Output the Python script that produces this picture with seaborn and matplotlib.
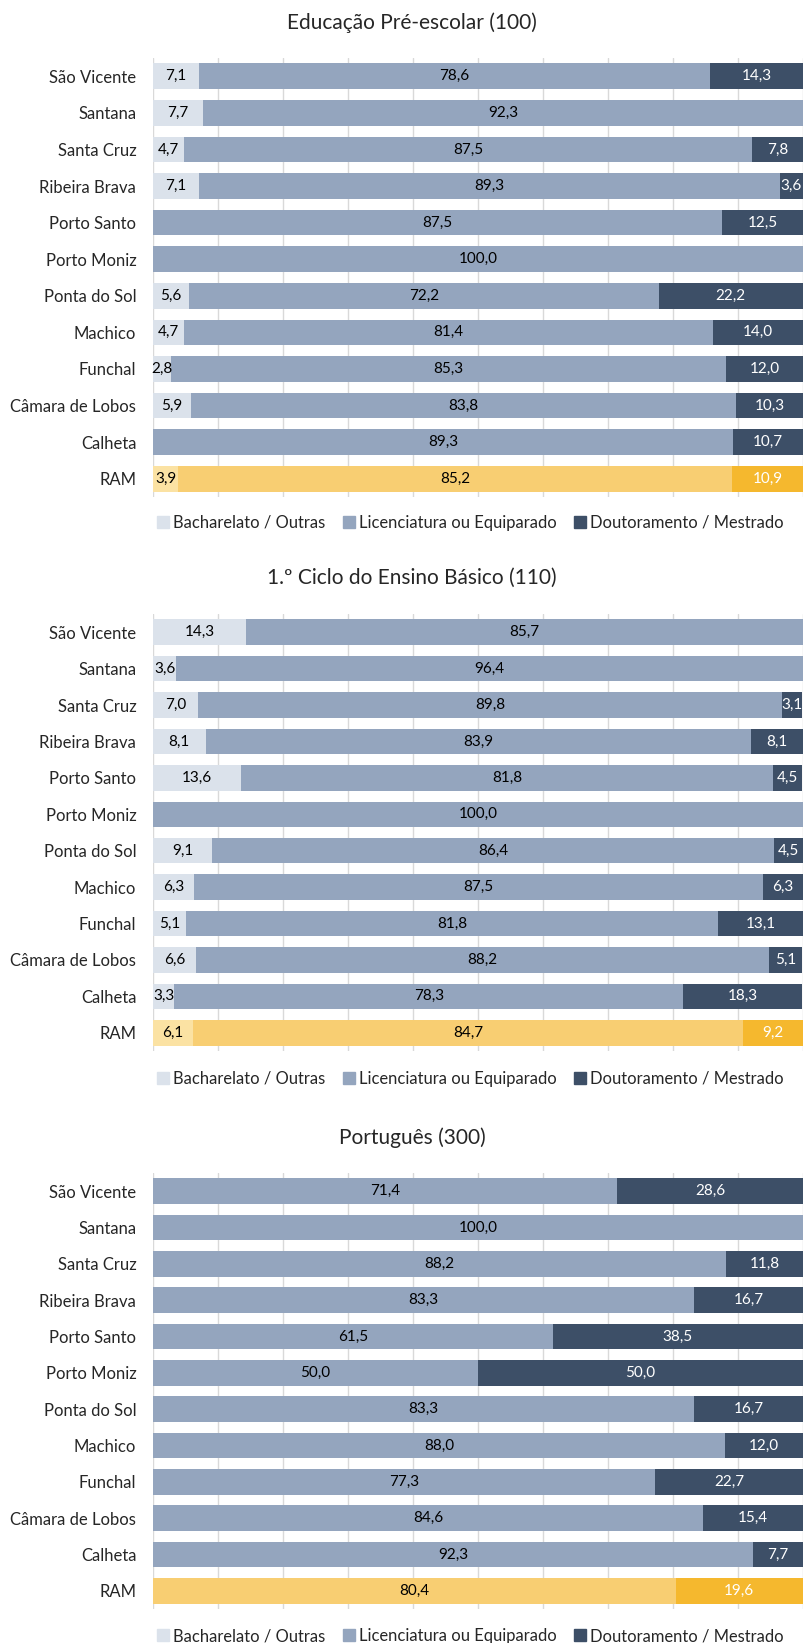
import seaborn as sns
import matplotlib.pyplot as plt
from matplotlib.lines import Line2D
import pandas as pd
import numpy as np

# categories (top to bottom)
municipios = ["São Vicente", "Santana", "Santa Cruz", "Ribeira Brava", "Porto Santo",
              "Porto Moniz", "Ponta do Sol", "Machico", "Funchal", "Câmara de Lobos",
              "Calheta", "RAM"]

titles = ["Educação Pré-escolar (100)", "1.º Ciclo do Ensino Básico (110)", "Português (300)"]
series_names = ["Bacharelato / Outras", "Licenciatura ou Equiparado", "Doutoramento / Mestrado"]

# values per panel (%)
bach_100 = [7.1, 7.7, 4.7, 7.1, 0, 0, 5.6, 4.7, 2.8, 5.9, 0, 3.9]
lic_100 = [78.6, 92.3, 87.5, 89.3, 87.5, 100.0, 72.2, 81.4, 85.3, 83.8, 89.3, 85.2]
dout_100 = [14.3, 0, 7.8, 3.6, 12.5, 0, 22.2, 14.0, 12.0, 10.3, 10.7, 10.9]

bach_110 = [14.3, 3.6, 7.0, 8.1, 13.6, 0, 9.1, 6.3, 5.1, 6.6, 3.3, 6.1]
lic_110 = [85.7, 96.4, 89.8, 83.9, 81.8, 100.0, 86.4, 87.5, 81.8, 88.2, 78.3, 84.7]
dout_110 = [0, 0, 3.1, 8.1, 4.5, 0, 4.5, 6.3, 13.1, 5.1, 18.3, 9.2]

bach_300 = [0] * 12
lic_300 = [71.4, 100.0, 88.2, 83.3, 61.5, 50.0, 83.3, 88.0, 77.3, 84.6, 92.3, 80.4]
dout_300 = [28.6, 0, 11.8, 16.7, 38.5, 50.0, 16.7, 12.0, 22.7, 15.4, 7.7, 19.6]

panels = [(bach_100, lic_100, dout_100),
          (bach_110, lic_110, dout_110),
          (bach_300, lic_300, dout_300)]

# colours: regular rows and the RAM row
cols = ["#dbe2eb", "#94a5be", "#3d4f67"]
cols_ram = ["#fbe2a3", "#f8ce72", "#f5b82e"]

sns.set_theme(style="white")
plt.rcParams["font.family"] = ["Lato", "DejaVu Sans"]

W, H = 804, 1643
fig = plt.figure(figsize=(W / 100, H / 100), dpi=100)

axes_px = [(58, 497), (614, 1051), (1173, 1609)]
title_px = [23, 578, 1138]
legend_px = [523, 1079, 1636]

for (bach, lic, dout), title, (top, bot), ty, ly in zip(panels, titles, axes_px, title_px, legend_px):
    ax = fig.add_axes([153 / W, 1 - bot / H, 650 / W, (bot - top) / H])
    df = pd.DataFrame({"mun": municipios, "b": bach, "l": lic, "d": dout})
    df["bl"] = df["b"] + df["l"]
    df["tot"] = df["bl"] + df["d"]
    # stack by overdrawing cumulative sums
    for k, col in [("tot", 2), ("bl", 1), ("b", 0)]:
        pal = {m: (cols_ram[col] if m == "RAM" else cols[col]) for m in municipios}
        sns.barplot(data=df, x=k, y="mun", hue="mun", order=municipios, palette=pal,
                    legend=False, orient="h", width=0.7, saturation=1, errorbar=None,
                    linewidth=0, ax=ax, zorder=2)
    # value labels
    for i, row in df.iterrows():
        left = 0
        for j, v in enumerate([row["b"], row["l"], row["d"]]):
            if v > 0:
                c = "white" if j == 2 else "black"
                ax.text(left + v / 2, i, f"{v:.1f}".replace(".", ","), ha="center", va="center",
                        fontsize=11, color=c, zorder=3)
            left += v
    ax.set_xlim(0, 100)
    ax.set_ylim(11.5, -0.5)
    ax.set_xticks(np.arange(0, 101, 10))
    ax.set_xticklabels([])
    ax.xaxis.grid(True, color="#d9d9d9", linewidth=1)
    ax.set_axisbelow(True)
    ax.tick_params(axis="y", length=0, labelsize=12, pad=12)
    ax.tick_params(axis="x", length=0)
    ax.set_xlabel("")
    ax.set_ylabel("")
    sns.despine(ax=ax, left=True, bottom=True)
    fig.text(412 / W, 1 - ty / H, title, ha="center", va="center", fontsize=15)
    handles = [Line2D([], [], marker="s", linestyle="", markersize=9, color=c) for c in cols]
    fig.legend(handles, series_names, loc="center", bbox_to_anchor=(470 / W, 1 - ly / H),
               ncol=3, frameon=False, fontsize=11.9, handletextpad=0.2, columnspacing=1.0,
               handlelength=0.8)

fig.savefig("out.png", dpi=100)
